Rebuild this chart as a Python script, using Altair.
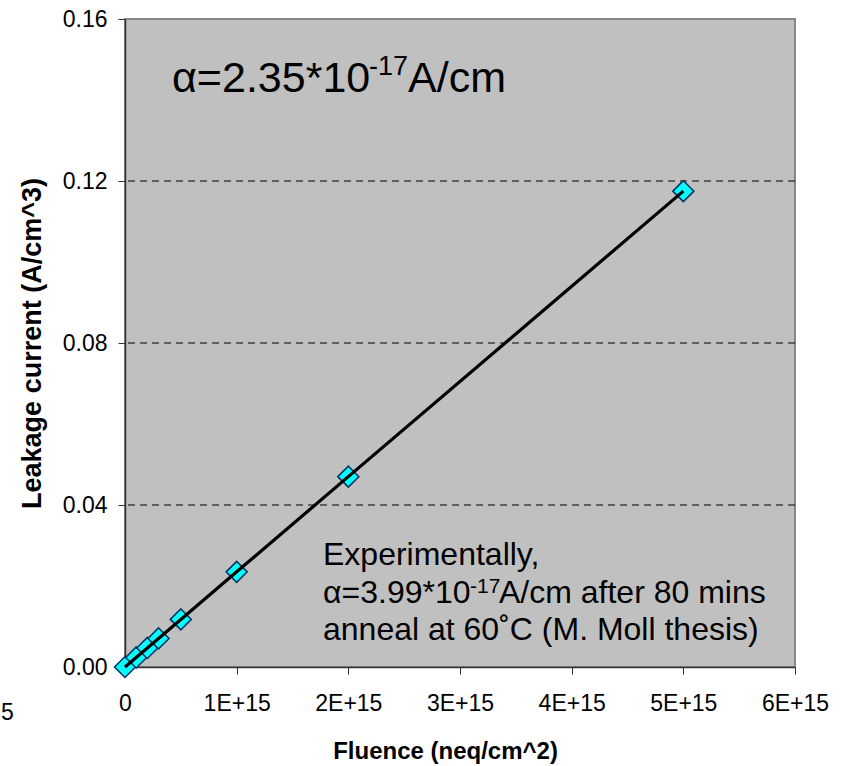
import altair as alt
import pandas as pd

# ---- data ----
fluence = [0, 1e14, 2e14, 3e14, 5e14, 1e15, 2e15, 5e15]
current = [0.0, 0.00235, 0.0047, 0.00705, 0.01175, 0.0235, 0.047, 0.1175]
x_ticks = [0, 1e15, 2e15, 3e15, 4e15, 5e15, 6e15]
y_ticks = [0.0, 0.04, 0.08, 0.12, 0.16]
grid_lines = [0.04, 0.08, 0.12]

title_main = "α=2.35*10"
title_sup = "-17"
title_unit = "A/cm"
note_line1 = "Experimentally,"
note_line2_main = "α=3.99*10"
note_line2_sup = "-17"
note_line2_rest = "A/cm after 80 mins"
note_line3 = "anneal at 60˚C (M. Moll thesis)"
stray_label = "5"

FONT = "Liberation Sans"

df = pd.DataFrame({"fluence": fluence, "current": current})
grid_df = pd.DataFrame({"g": grid_lines})

xscale = alt.Scale(domain=[0, 6e15], nice=False, zero=True)
yscale = alt.Scale(domain=[0, 0.16], nice=False, zero=True)

xaxis = alt.Axis(
    values=x_ticks,
    labelExpr="datum.value == 0 ? '0' : format(datum.value / 1e15, 'd') + 'E+15'",
    title="Fluence (neq/cm^2)",
    grid=False,
    tickSize=7,
    tickColor="#333333",
    domainColor="#333333",
    domainWidth=1.5,
    labelFont=FONT,
    labelFontSize=23,
    labelColor="black",
    labelBaseline="alphabetic",
    labelPadding=36,
    labelFlush=False,
    labelOverlap=False,
    labelBound=False,
    titleFont=FONT,
    titleFontSize=24,
    titleFontWeight="bold",
    titleColor="black",
    titleX=320,
    titleY=91,
    titleBaseline="alphabetic",
    titleAlign="center",
)

yaxis = alt.Axis(
    values=y_ticks,
    format=".2f",
    title="Leakage current (A/cm^3)",
    grid=False,
    tickSize=7,
    tickColor="#333333",
    domainColor="#333333",
    domainWidth=1.5,
    labelFont=FONT,
    labelFontSize=23,
    labelColor="black",
    labelPadding=11,
    labelFlush=False,
    labelOverlap=False,
    labelBound=False,
    titleFont=FONT,
    titleFontSize=27,
    titleFontWeight="bold",
    titleColor="black",
    titleAngle=270,
    titleX=-85,
    titleY=324,
    titleBaseline="alphabetic",
    titleAlign="center",
)

grid = alt.Chart(grid_df).mark_rule(color="black", strokeWidth=1, strokeDash=[7, 5]).encode(
    y=alt.Y("g:Q", scale=yscale, axis=yaxis),
)

points = alt.Chart(df).mark_point(
    shape="diamond", filled=True, size=440, fill="#00FFFF", stroke="#0A3566",
    strokeWidth=1.6, opacity=1,
).encode(
    x=alt.X("fluence:Q", scale=xscale, axis=xaxis),
    y=alt.Y("current:Q", scale=yscale, axis=yaxis),
)

line = alt.Chart(df).mark_line(color="black", strokeWidth=3.2).encode(
    x=alt.X("fluence:Q", scale=xscale, axis=xaxis),
    y=alt.Y("current:Q", scale=yscale, axis=yaxis),
)


def txt(s, x, y, size, weight="normal"):
    return alt.Chart(pd.DataFrame({"t": [s]})).mark_text(
        align="left", baseline="alphabetic", fontSize=size, font=FONT,
        fontWeight=weight, color="black",
    ).encode(text="t:N", x=alt.value(x), y=alt.value(y))


texts = [
    txt(title_main, 47, 73, 43),
    txt(title_sup, 244, 56, 27),
    txt(title_unit, 283, 73, 43),
    txt(note_line1, 198, 546, 32),
    txt(note_line2_main, 198, 584, 32),
    txt(note_line2_sup, 345, 574, 21),
    txt(note_line2_rest, 374, 584, 32),
    txt(note_line3, 198, 621, 32),
    txt(stray_label, -124, 701, 23),
]

chart = alt.layer(grid, points, line, *texts).properties(
    width=670,
    height=648,
    autosize="none",
    padding={"left": 125, "top": 19, "right": 57, "bottom": 99},
    background="white",
).configure_view(
    fill="#C0C0C0",
    stroke="#888888",
    strokeWidth=2,
)

chart.save("out.html", embed_options={"renderer": "svg", "actions": False})
